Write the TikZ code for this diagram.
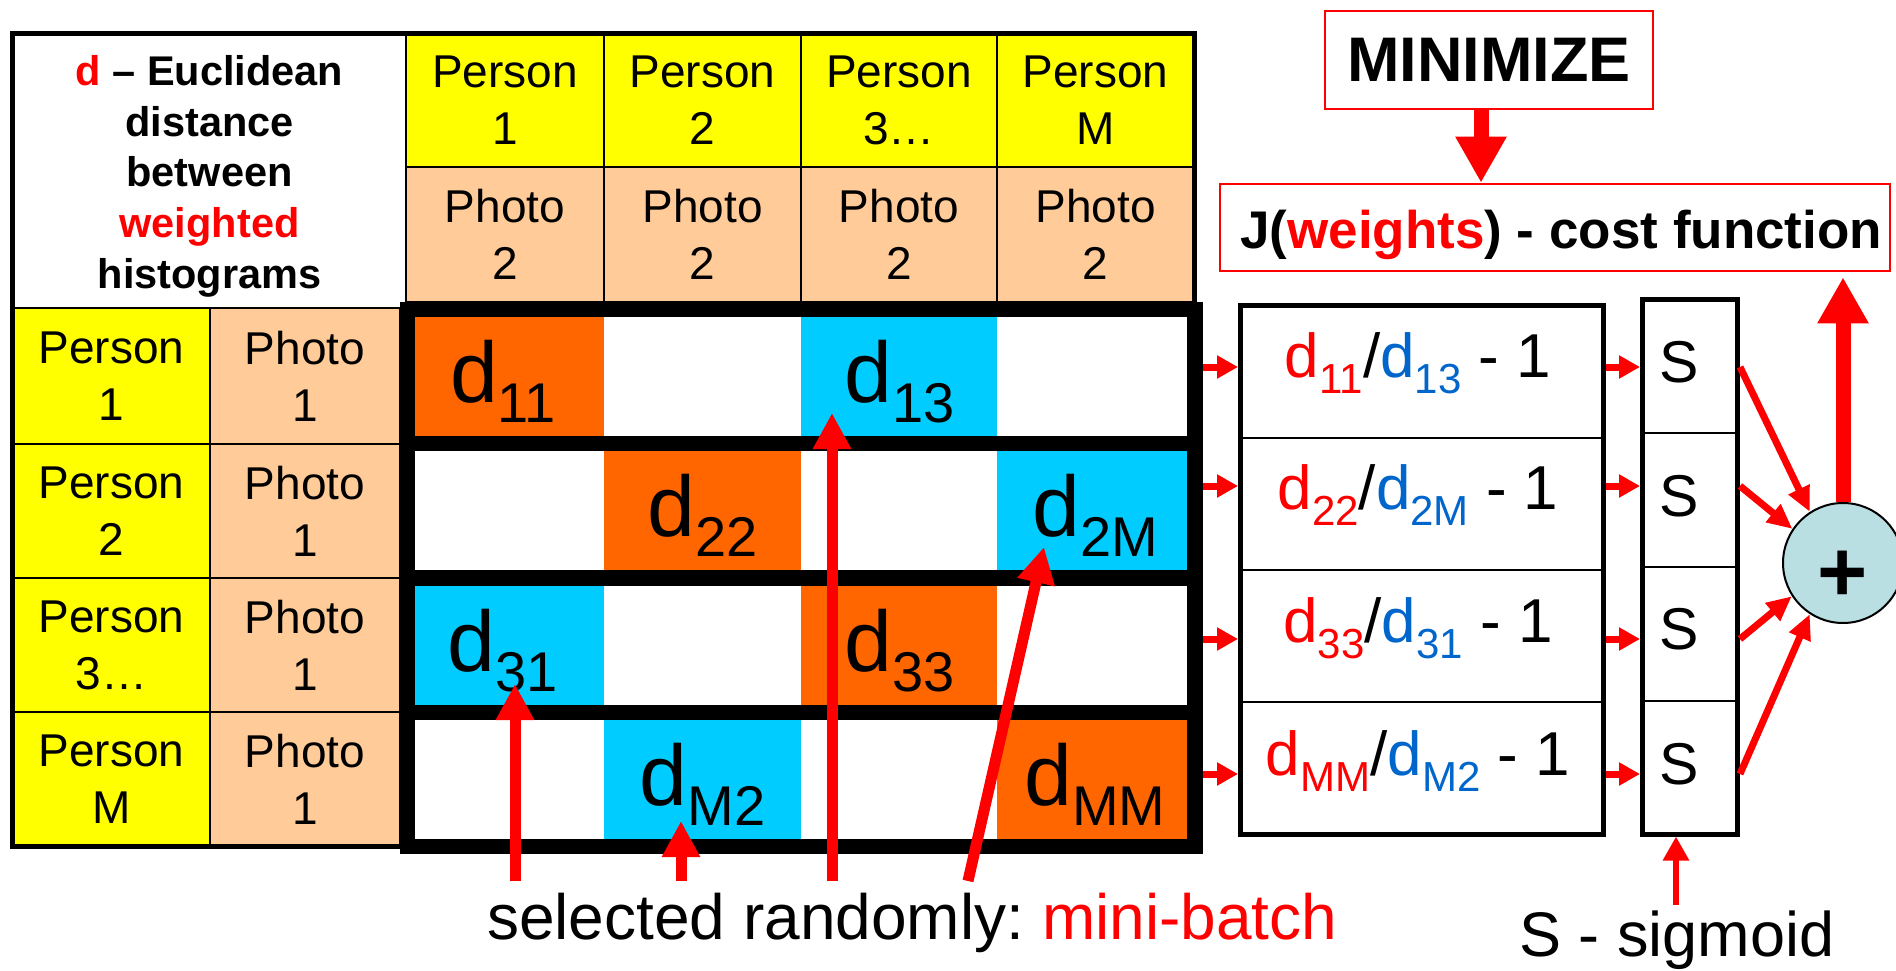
\documentclass[tikz,border=0pt]{standalone}
\usepackage{fontspec}
\setmainfont{Liberation Sans}
\usetikzlibrary{arrows.meta}
\definecolor{yel}{HTML}{FFFF00}
\definecolor{peach}{HTML}{FFCC99}
\definecolor{org}{HTML}{FF6600}
\definecolor{cyn}{HTML}{00CCFF}
\definecolor{rd}{HTML}{FF0000}
\definecolor{bl}{HTML}{0066CC}
\definecolor{plusc}{HTML}{B9DFE3}
\newcommand\dsub[4]{{\fontsize{#1}{#1}\selectfont d}\raisebox{-#3pt}{\fontsize{#2}{#2}\selectfont #4}}
\newcommand\md[1]{\dsub{86}{56}{20}{#1}}
\newcommand\rdd[1]{\dsub{62}{42}{16}{#1}}
\frenchspacing
\begin{document}
\begin{tikzpicture}[x=1pt,y=-1pt,
  cell/.style={draw=black, line width=2pt, inner sep=0pt, align=center, font=\fontsize{46}{57}\selectfont},
  mc/.style={inner sep=0pt, minimum height=119pt},
  box/.style={draw=black, inner sep=0pt},
  redbox/.style={draw=rd, line width=2.5pt, inner sep=0pt, fill=white},
  dtxt/.style={anchor=base, inner sep=0pt},
  sarr/.style={draw=rd, line width=7pt, -{Triangle[length=21pt,width=22pt]}},
  barr/.style={draw=rd, line width=11pt, -{Triangle[length=36pt,width=36pt]}},
  harr/.style={draw=rd, line width=15pt, -{Triangle[length=46pt,width=48pt]}},
  parr/.style={draw=rd, line width=7pt, -{Triangle[length=25pt,width=22pt]}},
  garr/.style={draw=rd, line width=6pt, -{Triangle[length=24pt,width=25pt]}},
]
\useasboundingbox (0,0) rectangle (1896,971);

% header corner cell
\node[cell, fill=white, minimum width=393pt, minimum height=274pt] (hd) at (209.5,171) {};
\node[anchor=north, inner sep=0pt, align=center, font=\bfseries\fontsize{41.5}{50.75}\selectfont] (hdt) at (209.5,55)
  {\textcolor{rd}{d} – Euclidean\\distance\\between\\\textcolor{rd}{weighted}\\histograms};

% header person / photo cells
\node[cell, fill=yel, minimum width=198pt, minimum height=133pt] (hp1) at (505,100.5) {Person\\1};
\node[cell, fill=yel, minimum width=197pt, minimum height=133pt] (hp2) at (702.5,100.5) {Person\\2};
\node[cell, fill=yel, minimum width=196pt, minimum height=133pt] (hp3) at (899,100.5) {Person\\3…};
\node[cell, fill=yel, minimum width=197pt, minimum height=133pt] (hp4) at (1095.5,100.5) {Person\\M};
\node[cell, fill=peach, minimum width=198pt, minimum height=135pt] (hf1) at (505,234.5) {Photo\\2};
\node[cell, fill=peach, minimum width=197pt, minimum height=135pt] (hf2) at (702.5,234.5) {Photo\\2};
\node[cell, fill=peach, minimum width=196pt, minimum height=135pt] (hf3) at (899,234.5) {Photo\\2};
\node[cell, fill=peach, minimum width=197pt, minimum height=135pt] (hf4) at (1095.5,234.5) {Photo\\2};

% left person / photo cells
\node[cell, fill=yel, minimum width=197pt, minimum height=136pt] (lp1) at (111.5,376) {Person\\1};
\node[cell, fill=yel, minimum width=197pt, minimum height=134pt] (lp2) at (111.5,511) {Person\\2};
\node[cell, fill=yel, minimum width=197pt, minimum height=134pt] (lp3) at (111.5,645) {Person\\3…};
\node[cell, fill=yel, minimum width=197pt, minimum height=134pt] (lp4) at (111.5,779) {Person\\M};
\node[cell, fill=peach, minimum width=190pt, minimum height=136pt] (lf1) at (305,376) {Photo\\1};
\node[cell, fill=peach, minimum width=190pt, minimum height=134pt] (lf2) at (305,511) {Photo\\1};
\node[cell, fill=peach, minimum width=190pt, minimum height=134pt] (lf3) at (305,645) {Photo\\1};
\node[cell, fill=peach, minimum width=190pt, minimum height=134pt] (lf4) at (305,779) {Photo\\1};

% outer border of the table
\draw[line width=5pt] (1194.5,302) -- (1194.5,33.5) -- (12.5,33.5) -- (12.5,846) -- (400,846);

% distance matrix
\node[fill=black, inner sep=0pt, minimum width=803pt, minimum height=552pt] (mat) at (801.5,578) {};
\foreach \r/\yc/\ca/\cb/\cc/\cd in {1/376.5/org/white/cyn/white, 2/510.5/white/org/white/cyn,
                                   3/645/cyn/white/org/white, 4/779.5/white/cyn/white/org} {
  \node[mc, fill=\ca, minimum width=189pt] (c\r1) at (509.5,\yc) {};
  \node[mc, fill=\cb, minimum width=197pt] (c\r2) at (702.5,\yc) {};
  \node[mc, fill=\cc, minimum width=196pt] (c\r3) at (899,\yc) {};
  \node[mc, fill=\cd, minimum width=190pt] (c\r4) at (1092,\yc) {};
}
\node[dtxt] (d11) at (503,402) {\md{11}};
\node[dtxt] (d13) at (900,402) {\md{13}};
\node[dtxt] (d22) at (702.5,536) {\md{22}};
\node[dtxt] (d2M) at (1095,536) {\md{2M}};
\node[dtxt] (d31) at (503,671) {\md{31}};
\node[dtxt] (d33) at (900,671) {\md{33}};
\node[dtxt] (dM2) at (702.5,805) {\md{M2}};
\node[dtxt] (dMM) at (1095,805) {\md{MM}};

% bottom caption and its arrows
\node[anchor=base west, inner sep=0pt, font=\fontsize{64}{64}\selectfont] (sel) at (487,939)
  {selected randomly: \textcolor{rd}{mini-batch}};
\coordinate (u1) at (515,881); \coordinate (v1) at (515,684);
\coordinate (u2) at (681,881); \coordinate (v2) at (681,821);
\coordinate (u3) at (832,881); \coordinate (v3) at (832,413);
\coordinate (u4) at (968,881); \coordinate (v4) at (1044,547);
\draw[barr] (u1) -- (v1);
\draw[barr] (u2) -- (v2);
\draw[barr] (u3) -- (v3);
\draw[barr] (u4) -- (v4);

% ratio column
\node[box, line width=2.5pt, minimum width=363pt, minimum height=132.5pt] (r1) at (1422,371.75) {};
\node[box, line width=2.5pt, minimum width=363pt, minimum height=132pt] (r2) at (1422,504) {};
\node[box, line width=2.5pt, minimum width=363pt, minimum height=132pt] (r3) at (1422,636) {};
\node[box, line width=2.5pt, minimum width=363pt, minimum height=132pt] (r4) at (1422,768) {};
\node[box, line width=5pt, minimum width=363pt, minimum height=528.5pt] (rbox) at (1422,569.75) {};
\node[dtxt, font=\fontsize{62}{62}\selectfont] (rt1) at (1418,377) {\textcolor{rd}{\rdd{11}}/\textcolor{bl}{\rdd{13}} - 1};
\node[dtxt, font=\fontsize{62}{62}\selectfont] (rt2) at (1418,509) {\textcolor{rd}{\rdd{22}}/\textcolor{bl}{\rdd{2M}} - 1};
\node[dtxt, font=\fontsize{62}{62}\selectfont] (rt3) at (1418,642) {\textcolor{rd}{\rdd{33}}/\textcolor{bl}{\rdd{31}} - 1};
\node[dtxt, font=\fontsize{62}{62}\selectfont] (rt4) at (1418,775) {\textcolor{rd}{\rdd{MM}}/\textcolor{bl}{\rdd{M2}} - 1};

% sigmoid column
\node[box, line width=2.5pt, minimum width=95pt, minimum height=133.5pt] (s1) at (1690,366.25) {};
\node[box, line width=2.5pt, minimum width=95pt, minimum height=134pt] (s2) at (1690,500) {};
\node[box, line width=2.5pt, minimum width=95pt, minimum height=134pt] (s3) at (1690,634) {};
\node[box, line width=2.5pt, minimum width=95pt, minimum height=133pt] (s4) at (1690,767.5) {};
\node[box, line width=5pt, minimum width=95pt, minimum height=534.5pt] (sbox) at (1690,566.75) {};
\node[inner sep=0pt, font=\fontsize{59}{59}\selectfont] (st1) at (1679,362) {S};
\node[inner sep=0pt, font=\fontsize{59}{59}\selectfont] (st2) at (1679,496) {S};
\node[inner sep=0pt, font=\fontsize{59}{59}\selectfont] (st3) at (1679,629) {S};
\node[inner sep=0pt, font=\fontsize{59}{59}\selectfont] (st4) at (1679,764) {S};
\node[anchor=base west, inner sep=0pt, font=\fontsize{63}{63}\selectfont] (sig) at (1519,956) {S - sigmoid};
\coordinate (sg) at (1676,905);
\draw[garr] (sg) -- (sg |- sbox.south);

% row arrows
\foreach \i/\yy in {1/367,2/486,3/639,4/774} {
  \coordinate (a\i) at (0,\yy);
  \draw[sarr] (mat.east |- a\i) -- (rbox.west |- a\i);
  \draw[sarr] (rbox.east |- a\i) -- (sbox.west |- a\i);
}

% sum node
\node[circle, draw=black, line width=2pt, fill=plusc, minimum size=120pt, inner sep=0pt] (plus) at (1843,563) {};
\node[inner sep=0pt, font=\bfseries\fontsize{86}{86}\selectfont] (plt) at (1843,576) {+};
\draw[parr] (sbox.east |- a1) -- (plus.123);
\draw[parr] (sbox.east |- a2) -- (plus.146);
\draw[parr] (sbox.east |- a3) -- (plus.213);
\draw[parr] (sbox.east |- a4) -- (plus.237);

% cost function and minimize
\node[redbox, minimum width=328pt, minimum height=98pt, font=\bfseries\fontsize{63}{63}\selectfont] (min) at (1489,60) {MINIMIZE};
\node[redbox, minimum width=670pt, minimum height=87pt] (J) at (1555,227.5) {};
\node[anchor=base west, inner sep=0pt, font=\bfseries\fontsize{53}{53}\selectfont] (Jt) at (1240,248)
  {J(\textcolor{rd}{weights}) - cost function};
\coordinate (ax) at (1481,0);
\draw[harr] (min.south -| ax) -- (J.north -| ax);
\draw[harr] (plus.north) -- ([yshift=-5pt]plus.north |- J.south);
\end{tikzpicture}
\end{document}
